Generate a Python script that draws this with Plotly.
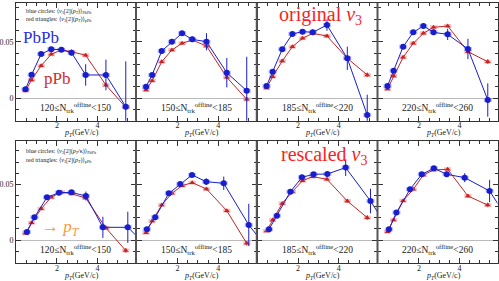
import plotly.graph_objects as go

# ---------------- data ----------------
pt_top = [0.45, 0.75, 1.22, 1.72, 2.22, 2.72, 3.42, 4.42, 5.40]
pt_pPb = [0.45, 0.75, 1.22, 1.72, 2.22, 2.72, 3.42, 4.42, 5.40]
pt_scaled_1 = [0.52, 0.89, 1.51, 2.10, 2.72, 3.43, 4.27, 5.50, 6.70]
pt_scaled_2 = [0.49, 0.90, 1.57, 2.13, 2.71, 3.41, 4.27, 5.50, 6.70]
pt_scaled_3 = [0.57, 0.96, 1.62, 2.19, 2.76, 3.44, 4.34, 5.56, 6.80]
pt_scaled_4 = [0.52, 0.89, 1.56, 2.14, 2.74, 3.37, 4.26, 5.49, 6.70]

mult_labels = ["120≤N<sub>trk</sub><sup>offline</sup>&lt;150",
               "150≤N<sub>trk</sub><sup>offline</sup>&lt;185",
               "185≤N<sub>trk</sub><sup>offline</sup>&lt;220",
               "220≤N<sub>trk</sub><sup>offline</sup>&lt;260"]
x_tick_vals = [2, 4]
y_tick_vals = [0, 0.05]
y_tick_text = ["0", "0.05"]

# original v3 (top row)
top_PbPb_1 = [0.0080, 0.0209, 0.0391, 0.0433, 0.0430, 0.0403, 0.0206, 0.0206, -0.0074]
top_PbPb_2 = [0.0103, 0.0206, 0.0418, 0.0500, 0.0574, 0.0521, 0.0500, 0.0226, 0.0067]
top_PbPb_3 = [0.0109, 0.0235, 0.0433, 0.0568, 0.0589, 0.0583, 0.0647, 0.0353, -0.0148]
top_PbPb_4 = [0.0109, 0.0244, 0.0456, 0.0583, 0.0639, 0.0583, 0.0565, 0.0436, -0.0015]
top_PbPb_err_1 = [0.0008, 0.0010, 0.0012, 0.0012, 0.0015, 0.0025, 0.0095, 0.0135, 0.040]
top_PbPb_err_2 = [0.0008, 0.0010, 0.0012, 0.0012, 0.0015, 0.0025, 0.0076, 0.0130, 0.030]
top_PbPb_err_3 = [0.0008, 0.0010, 0.0012, 0.0012, 0.0015, 0.0025, 0.0050, 0.0103, 0.018]
top_PbPb_err_4 = [0.0008, 0.0010, 0.0012, 0.0012, 0.0015, 0.0025, 0.0050, 0.0090, 0.0147]

top_pPb_1 = [0.0067, 0.0162, 0.0288, 0.0389, 0.0427, 0.0412, 0.0380, 0.0117, -0.0080]
top_pPb_2 = [0.0073, 0.0155, 0.0323, 0.0427, 0.0486, 0.0515, 0.0462, 0.0185, -0.0009]
top_pPb_3 = [0.0091, 0.0191, 0.0329, 0.0456, 0.0530, 0.0574, 0.0550, 0.0353, 0.0206]
top_pPb_4 = [0.0082, 0.0197, 0.0362, 0.0486, 0.0574, 0.0627, 0.0639, 0.0412, 0.0323]

# rescaled v3 (bottom row)
bot_PbPb_1 = [0.0072, 0.0204, 0.0383, 0.0425, 0.0428, 0.0395, 0.0114, 0.0114, -0.0100]
bot_PbPb_2 = [0.0096, 0.0204, 0.0419, 0.0503, 0.0584, 0.0524, 0.0509, 0.0135, -0.0140]
bot_PbPb_3 = [0.0096, 0.0219, 0.0434, 0.0563, 0.0590, 0.0593, 0.0650, 0.0350, 0.0000]
bot_PbPb_4 = [0.0096, 0.0246, 0.0455, 0.0590, 0.0644, 0.0590, 0.0560, 0.0440, 0.0100]
bot_PbPb_err_1 = [0.0008, 0.0010, 0.0012, 0.0012, 0.0015, 0.0040, 0.0095, 0.0140, 0.030]
bot_PbPb_err_2 = [0.0008, 0.0010, 0.0012, 0.0012, 0.0015, 0.0030, 0.0060, 0.0190, 0.030]
bot_PbPb_err_3 = [0.0008, 0.0010, 0.0012, 0.0012, 0.0015, 0.0025, 0.0075, 0.0110, 0.020]
bot_PbPb_err_4 = [0.0008, 0.0010, 0.0012, 0.0012, 0.0015, 0.0025, 0.0040, 0.0100, 0.020]

bot_pPb_1 = [0.0060, 0.0155, 0.0280, 0.0385, 0.0430, 0.0415, 0.0377, 0.0108, -0.0095]
bot_pPb_2 = [0.0066, 0.0171, 0.0314, 0.0419, 0.0488, 0.0515, 0.0458, 0.0263, -0.0030]
bot_pPb_3 = [0.0081, 0.0180, 0.0329, 0.0434, 0.0533, 0.0569, 0.0545, 0.0350, 0.0201]
bot_pPb_4 = [0.0075, 0.0180, 0.0353, 0.0455, 0.0584, 0.0629, 0.0635, 0.0395, 0.0314]
pPb_err = [0.0006, 0.0006, 0.0008, 0.0008, 0.0010, 0.0010, 0.0012, 0.0015, 0.0020]

rows = [
    dict(pb_x=[pt_top] * 4,
         pb_y=[top_PbPb_1, top_PbPb_2, top_PbPb_3, top_PbPb_4],
         pb_e=[top_PbPb_err_1, top_PbPb_err_2, top_PbPb_err_3, top_PbPb_err_4],
         pp_y=[top_pPb_1, top_pPb_2, top_pPb_3, top_pPb_4],
         yrange=[-0.0198, 0.0842]),
    dict(pb_x=[pt_scaled_1, pt_scaled_2, pt_scaled_3, pt_scaled_4],
         pb_y=[bot_PbPb_1, bot_PbPb_2, bot_PbPb_3, bot_PbPb_4],
         pb_e=[bot_PbPb_err_1, bot_PbPb_err_2, bot_PbPb_err_3, bot_PbPb_err_4],
         pp_y=[bot_pPb_1, bot_pPb_2, bot_pPb_3, bot_pPb_4],
         yrange=[-0.0209, 0.0889]),
]

# ---------------- layout geometry ----------------
W, H = 499, 281
col_px = [(16, 135.5), (136.5, 256.5), (257, 377), (378, 497.5)]
row_px = [(3, 120.7), (141, 263.3)]

BLUE = "rgb(25,30,205)"
RED = "rgb(200,35,35)"
SERIF = "Liberation Serif, DejaVu Serif, Times New Roman, serif"

fig = go.Figure()
layout = dict(width=W, height=H, margin=dict(l=0, r=0, t=0, b=0, autoexpand=False),
              paper_bgcolor="white", plot_bgcolor="white", showlegend=False,
              font=dict(family=SERIF))
annotations = []
shapes = []

for r, rd in enumerate(rows):
    y0p, y1p = row_px[r]
    ydom = [1 - y1p / H, 1 - y0p / H]
    for c in range(4):
        idx = r * 4 + c + 1
        sx = "" if idx == 1 else str(idx)
        x0p, x1p = col_px[c]
        xdom = [x0p / W, x1p / W]
        layout["xaxis" + sx] = dict(
            domain=xdom, anchor="y" + sx, range=[-0.02, 5.88],
            tickmode="array", tickvals=x_tick_vals, ticktext=[str(v) for v in x_tick_vals],
            ticks="inside", ticklen=5, tickcolor="#333", tickwidth=1,
            minor=dict(dtick=0.5, tick0=0, ticks="inside", ticklen=3, tickcolor="#333"),
            showline=True, linecolor="#333", linewidth=1, mirror="allticks",
            showgrid=False, zeroline=False, automargin=False,
            ticklabelstandoff=-3,
            tickfont=dict(family=SERIF, size=8, color="#222"))
        layout["yaxis" + sx] = dict(
            domain=ydom, anchor="x" + sx, range=rd["yrange"],
            tickmode="array", tickvals=y_tick_vals, ticktext=y_tick_text,
            showticklabels=(c == 0),
            ticks="inside", ticklen=5, tickcolor="#333", tickwidth=1,
            minor=dict(dtick=0.01, tick0=0, ticks="inside", ticklen=3, tickcolor="#333"),
            showline=True, linecolor="#333", linewidth=1, mirror="allticks",
            showgrid=False, zeroline=True, zerolinecolor="#bbbbbb", zerolinewidth=1,
            automargin=False,
            tickfont=dict(family=SERIF, size=8, color="#222"))

        # pPb: red triangles
        fig.add_trace(go.Scatter(
            x=pt_pPb, y=rd["pp_y"][c], xaxis="x" + sx, yaxis="y" + sx,
            mode="lines+markers",
            line=dict(color=RED, width=1),
            marker=dict(symbol="triangle-up", size=5, color=RED),
            error_x=dict(type="constant", value=0.18, color="rgba(230,120,120,0.45)",
                         thickness=4, width=0),
            error_y=dict(type="data", array=pPb_err, color=RED, thickness=1, width=0)))
        # PbPb: blue circles
        fig.add_trace(go.Scatter(
            x=rd["pb_x"][c], y=rd["pb_y"][c], xaxis="x" + sx, yaxis="y" + sx,
            mode="lines+markers",
            line=dict(color=BLUE, width=1),
            marker=dict(symbol="circle", size=6, color=BLUE),
            error_x=dict(type="constant", value=0.2, color="rgba(110,120,255,0.45)",
                         thickness=4, width=0),
            error_y=dict(type="data", array=rd["pb_e"][c], color=BLUE, thickness=1, width=0)))

        # multiplicity label
        annotations.append(dict(
            x=(x0p + x1p) / 2 / W, y=1 - (y1p - 13.5) / H, xref="paper", yref="paper",
            text=mult_labels[c], showarrow=False, xanchor="center", yanchor="middle",
            font=dict(family=SERIF, size=9.5, color="#222")))
        # x axis title
        annotations.append(dict(
            x=(x0p + 65) / W, y=1 - (y1p + 12.5) / H, xref="paper", yref="paper",
            text="<i>p</i><sub><i>T</i></sub>(GeV/c)", showarrow=False,
            xanchor="center", yanchor="middle",
            font=dict(family=SERIF, size=8, color="#222")))

    # thick separators between panels
    for c in range(1, 4):
        xs = (col_px[c - 1][1] + col_px[c][0]) / 2
        shapes.append(dict(type="line", xref="paper", yref="paper",
                           x0=xs / W, x1=xs / W, y0=1 - y1p / H, y1=1 - y0p / H,
                           line=dict(color="#555", width=2)))

# text overlays
def ann(xp, yp, text, size, color, anchor="left"):
    annotations.append(dict(x=xp / W, y=1 - yp / H, xref="paper", yref="paper",
                            text=text, showarrow=False, xanchor=anchor, yanchor="middle",
                            font=dict(family=SERIF, size=size, color=color)))

ann(24, 11.5, "blue circles: ⟨<i>v</i><sub>3</sub>[2](<i>p<sub>T</sub></i>)⟩<sub>PbPb</sub>", 6, "#222")
ann(24, 20, "red triangles: ⟨<i>v</i><sub>3</sub>[2](<i>p<sub>T</sub></i>)⟩<sub>pPb</sub>", 6, "#222")
ann(21, 37, "PbPb", 17, "rgb(40,45,225)")
ann(42, 78, "pPb", 17, "rgb(205,45,45)")
ann(277, 15, "original <i>v</i><sub>3</sub>", 20, "rgb(250,30,30)")

ann(24, 151.5, "blue circles: ⟨<i>v</i><sub>3</sub>[2](<i>p<sub>T</sub></i>/κ)⟩<sub>PbPb</sub>", 6, "#222")
ann(24, 160, "red triangles: ⟨<i>v</i><sub>3</sub>[2](<i>p<sub>T</sub></i>)⟩<sub>pPb</sub>", 6, "#222")
ann(40, 228, "→ <i>p<sub>T</sub></i>", 17, "rgb(255,150,50)")
ann(279, 155, "rescaled <i>v</i><sub>3</sub>", 20, "rgb(250,30,30)")

layout["annotations"] = annotations
layout["shapes"] = shapes
fig.update_layout(**layout)
fig.write_html("out.html", config={"displayModeBar": False},
               post_script="document.body.style.margin='0px';")
